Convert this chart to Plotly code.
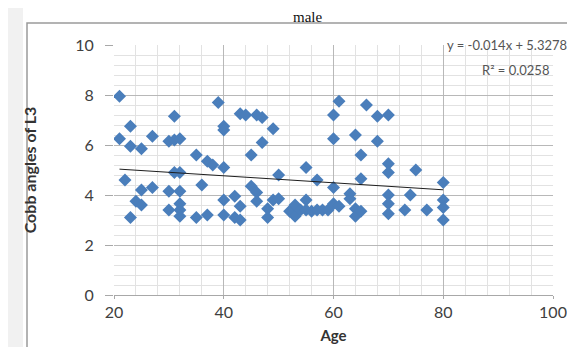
import plotly.graph_objects as go

ages = [21, 21, 22, 23, 23, 23, 24, 25, 25, 25, 27, 27, 30, 30, 30, 31, 31, 31, 32, 32,
        32, 32, 32, 32, 35, 35, 36, 37, 37, 38, 40, 39, 40, 40, 40, 40, 42, 42, 43, 43,
        43, 44, 45, 45, 46, 46, 46, 47, 47, 48, 48, 49, 49, 50, 50, 52, 53, 53, 54, 55,
        55, 55, 56, 57, 57, 58, 59, 60, 60, 60, 60, 61, 61, 63, 63, 64, 64, 64, 65, 65,
        65, 66, 68, 68, 70, 70, 70, 70, 70, 70, 73, 74, 75, 77, 80, 80, 80, 80]
cobb = [7.95, 6.25, 4.6, 6.75, 5.95, 3.1, 3.75, 3.6, 5.85, 4.2, 6.35, 4.3, 6.15, 4.15, 3.4,
        7.15, 6.2, 4.9, 6.25, 4.9, 4.15, 3.65, 3.4, 3.15, 5.6, 3.1, 4.4, 5.35, 3.2, 5.2,
        5.1, 7.7, 6.75, 6.6, 3.8, 3.2, 3.95, 3.1, 3.55, 3.0, 7.25, 7.2, 5.6, 4.35, 7.2,
        4.1, 3.75, 7.1, 6.1, 3.45, 3.1, 6.65, 3.8, 4.8, 3.85, 3.35, 3.15, 3.6, 3.4, 3.8,
        3.4, 5.1, 3.35, 4.6, 3.4, 3.4, 3.4, 7.2, 6.25, 4.3, 3.65, 7.75, 3.55, 4.05, 3.85,
        6.4, 3.45, 3.15, 3.35, 5.6, 4.65, 7.6, 7.15, 6.15, 7.2, 5.25, 4.9, 4.0, 3.65, 3.25,
        3.4, 4.0, 5.0, 3.4, 4.5, 3.8, 3.5, 3.0]

slope = -0.014
intercept = 5.3278
trend_x = [21, 80]
trend_y = [slope * v + intercept for v in trend_x]

x_ticks = [20, 40, 60, 80, 100]
y_ticks = [0, 2, 4, 6, 8, 10]

title_text = "male"
eq_text = "y = -0.014x + 5.3278"
r2_text = "R² = 0.0258"

fig = go.Figure()
fig.add_trace(go.Scatter(x=ages, y=cobb, mode="markers",
                         marker=dict(symbol="diamond", size=10, color="#4A7EBB",
                                     line=dict(width=0)),
                         showlegend=False))
fig.add_trace(go.Scatter(x=trend_x, y=trend_y, mode="lines",
                         line=dict(color="#1E1E1E", width=1), showlegend=False))

font_fam = "Lato, Open Sans, sans-serif"
fig.update_layout(
    width=575, height=347,
    margin=dict(l=106, r=30, t=37, b=60),
    paper_bgcolor="white", plot_bgcolor="white",
    font=dict(family=font_fam, color="#404040"),
    xaxis=dict(range=[20, 100], tickvals=x_ticks, showgrid=True, gridcolor="#B8B8B8",
               gridwidth=1, zeroline=False, showline=True, linecolor="#A8A8A8",
               ticks="outside", ticklen=3, tickcolor="#A8A8A8",
               tickfont=dict(size=16, color="#404040"),
               minor=dict(dtick=4, showgrid=True, gridcolor="#E2E2E2", ticks=""),
               title=dict(text="<b>Age</b>", font=dict(size=15, color="#333333"), standoff=10)),
    yaxis=dict(range=[0, 10], tickvals=y_ticks, showgrid=True, gridcolor="#B8B8B8",
               gridwidth=1, zeroline=False, showline=False,
               ticks="outside", ticklen=8, tickcolor="#A8A8A8",
               ticklabelstandoff=8,
               tickfont=dict(size=16, color="#404040"),
               minor=dict(dtick=0.4, showgrid=True, gridcolor="#E2E2E2", ticks=""),
               title=dict(text="<b>Cobb angles of L3</b>", font=dict(size=16, color="#333333"),
                          standoff=34)),
)

# chart border
fig.add_shape(type="rect", xref="paper", yref="paper",
              x0=(19 - 106) / 439, x1=1.2, y0=-0.4, y1=(286.7 - 14.7) / 250,
              line=dict(color="#9A9A9A", width=1.5), fillcolor="rgba(0,0,0,0)", layer="below")
fig.add_shape(type="rect", xref="paper", yref="paper",
              x0=-106 / 439, x1=(15 - 106) / 439, y0=-0.4, y1=1.3,
              line=dict(width=0), fillcolor="#F1F1F1", layer="below")

fig.add_annotation(text=title_text, xref="paper", yref="paper",
                   x=(299 - 106) / 439, y=(286.7 + 1) / 250, xanchor="center", yanchor="top",
                   showarrow=False, font=dict(family="Liberation Serif, serif", size=15, color="#111111"))
fig.add_annotation(text=eq_text, xref="paper", yref="paper",
                   x=(499 - 106) / 439, y=(286.7 - 37) / 250, xanchor="center", yanchor="middle",
                   showarrow=False, font=dict(size=13, color="#555555"))
fig.add_annotation(text=r2_text, xref="paper", yref="paper",
                   x=(507 - 106) / 439, y=(286.7 - 62) / 250, xanchor="center", yanchor="middle",
                   showarrow=False, font=dict(size=13, color="#555555"))

fig.write_html("out.html")
